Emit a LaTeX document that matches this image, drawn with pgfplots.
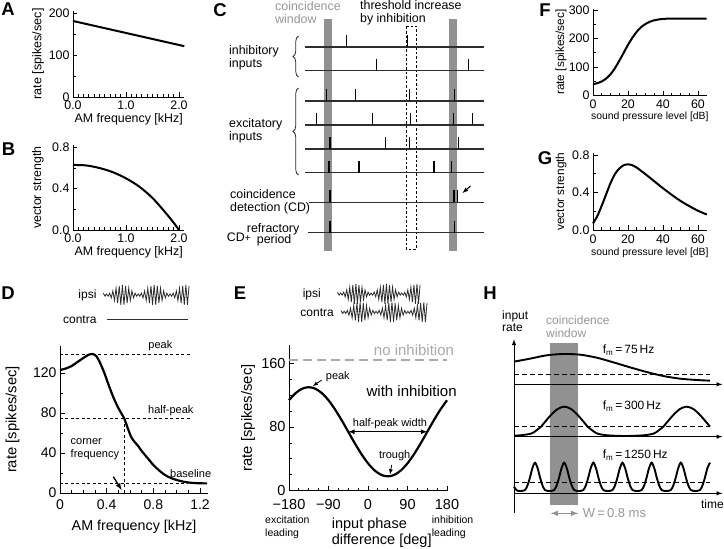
\documentclass[border=0pt]{standalone}
\usepackage{fontspec}
\setmainfont{Liberation Sans}
\usepackage{pgfplots}
\pgfplotsset{compat=1.18}
\usepackage{pgfplotstable}
\usetikzlibrary{decorations.pathreplacing}

\definecolor{bandgray}{RGB}{145,145,145}
\definecolor{txtgray}{RGB}{150,150,150}
\definecolor{dgray}{RGB}{45,45,45}
\definecolor{lgray}{RGB}{170,170,170}

\newcommand{\fs}[2]{\fontsize{#1}{#2}\selectfont}

% AM waveform (carrier half-cycles, envelope value with alternating sign)
\pgfplotstableread{
k y
0 0.186
1 -0.122
2 0.10
3 -0.122
4 0.186
5 -0.285
6 0.411
7 -0.55
8 0.689
9 -0.815
10 0.914
11 -0.978
12 1.0
13 -0.978
14 0.914
15 -0.815
16 0.689
17 -0.55
18 0.411
19 -0.285
20 0.186
21 -0.122
22 0.10
23 -0.122
24 0.186
25 -0.285
26 0.411
27 -0.55
28 0.689
29 -0.815
30 0.914
31 -0.978
32 1.0
33 -0.978
34 0.914
35 -0.815
36 0.689
37 -0.55
38 0.411
39 -0.285
40 0.186
41 -0.122
42 0.10
43 -0.122
44 0.186
45 -0.285
46 0.411
47 -0.55
48 0.689
49 -0.815
50 0.914
51 -0.978
52 1.0
53 -0.978
54 0.914
}\amwave

\pgfplotsset{
 panel/.style={scale only axis, axis lines*=left, tick align=inside,
   major tick length=4.5pt, minor tick length=2.8pt,
   axis line style={line width=0.9pt, black},
   tick style={line width=0.8pt, black},
   /pgf/number format/assume math mode=true,
   clip=false},
 ylab/.style 2 args={every axis y label/.style={at={([xshift=-#1]axis description cs:0,0.5)}, rotate=90, anchor=center, font=#2}},
 xlab/.style 2 args={every axis x label/.style={at={([yshift=-#1]axis description cs:0.5,0)}, anchor=center, font=#2}},
 schem/.style={scale only axis, hide axis, clip=false, y dir=reverse},
 wave/.style={scale only axis, hide axis, clip=false, xmin=0, xmax=54, ymin=-1, ymax=1, height=20pt},
}

\newcommand{\spk}[3]{\addplot[black, line width=1.5pt] coordinates {(#1,#2)(#1,#3)};}

\begin{document}
\begin{tikzpicture}
\path[use as bounding box] (0pt,0pt) rectangle (724pt,549pt);

% panel letters
\begin{scope}[every node/.style={font=\bfseries\fs{18.5}{18.5}}]
\node at (8pt,540pt) {A};
\node at (8.5pt,400pt) {B};
\node at (220pt,538.5pt) {C};
\node at (8pt,255.5pt) {D};
\node at (240pt,256pt) {E};
\node at (545pt,539pt) {F};
\node at (545pt,391pt) {G};
\node at (490pt,256pt) {H};
\end{scope}

% ---------------- A ----------------
\begin{axis}[panel, at={(73pt,452pt)}, anchor=south west, width=111.3pt, height=86.1pt,
 xmin=0, xmax=2.1, ymin=0, ymax=205,
 xtick={0,1,2}, xticklabels={0.0,1.0,2.0}, minor x tick num=9,
 ytick={0,100,200}, minor y tick num=1,
 tick label style={font=\fs{12.4}{12.4}},
 xlab={22.5pt}{\fs{12.4}{12.4}}, ylab={35pt}{\fs{12.6}{12.6}},
 xlabel={AM frequency [kHz]}, ylabel={rate [spikes/sec]}]
\addplot[black, line width=2pt] coordinates {(0,181) (2.1,121)};
\end{axis}

% ---------------- B ----------------
\begin{axis}[panel, at={(73pt,319pt)}, anchor=south west, width=111.3pt, height=84.7pt,
 xmin=0, xmax=2.1, ymin=0, ymax=0.82,
 xtick={0,1,2}, xticklabels={0.0,1.0,2.0}, minor x tick num=9,
 ytick={0,0.4,0.8}, yticklabels={0.0,0.4,0.8}, minor y tick num=1,
 tick label style={font=\fs{12.4}{12.4}},
 xlab={22.5pt}{\fs{12.4}{12.4}}, ylab={35pt}{\fs{12.4}{12.4}},
 xlabel={AM frequency [kHz]}, ylabel={vector strength}]
\addplot[black, line width=2pt, smooth] coordinates {(0,0.63) (0.25,0.625) (0.5,0.6) (0.75,0.56) (1,0.5) (1.25,0.42) (1.5,0.31) (1.75,0.165) (1.9,0.07) (2,0)};
\end{axis}

% ---------------- F ----------------
\begin{axis}[panel, at={(593pt,453.3pt)}, anchor=south west, width=113.75pt, height=87.1pt,
 xmin=0, xmax=65, ymin=0, ymax=305,
 xtick={0,20,40,60}, minor x tick num=3,
 ytick={0,100,200,300}, minor y tick num=1,
 tick label style={font=\fs{12.4}{12.4}},
 xticklabel style={yshift=-1pt},
 xlab={21pt}{\fs{10.4}{10.4}}, ylab={32pt}{\fs{11.8}{11.8}},
 xlabel={sound pressure level [dB]}, ylabel={rate [spikes/sec]}]
\addplot[black, line width=2pt, smooth] coordinates {(0,40) (2.5,44) (5,50) (7.5,60) (10,75) (12.5,96) (15,122) (17.5,150) (20,178) (22.5,203) (25,224) (27.5,240) (30,251) (32.5,259) (35,264) (37.5,267) (40,269) (45,270) (50,270) (55,270) (60,270) (65,270)};
\end{axis}

% ---------------- G ----------------
\begin{axis}[panel, at={(593pt,319pt)}, anchor=south west, width=113.75pt, height=76.9pt,
 xmin=0, xmax=65, ymin=0, ymax=0.82,
 xtick={0,20,40,60}, minor x tick num=3,
 ytick={0,0.4,0.8}, yticklabels={0.0,0.4,0.8}, minor y tick num=1,
 tick label style={font=\fs{12.4}{12.4}},
 xticklabel style={yshift=-1pt},
 xlab={23pt}{\fs{10.4}{10.4}}, ylab={32pt}{\fs{11.8}{11.8}},
 xlabel={sound pressure level [dB]}, ylabel={vector strength}]
\addplot[black, line width=2pt, smooth] coordinates {(0,0.07) (2.5,0.15) (5,0.26) (7.5,0.38) (10,0.5) (12.5,0.595) (15,0.655) (17.5,0.69) (20,0.70) (22.5,0.69) (25,0.665) (27.5,0.63) (30,0.595) (35,0.52) (40,0.445) (45,0.375) (50,0.31) (55,0.255) (60,0.205) (65,0.165)};
\end{axis}

% ---------------- C ----------------
\begin{axis}[schem, at={(355pt,419pt)}, anchor=center, width=270pt, height=260pt,
 xmin=220, xmax=490, ymin=0, ymax=260]
\addplot[fill=bandgray, draw=none] coordinates {(324,19) (332,19) (332,251) (324,251)};
\addplot[fill=bandgray, draw=none] coordinates {(449,19) (456.5,19) (456.5,251) (449,251)};
\addplot[black, line width=0.8pt, dash pattern=on 2.5pt off 2pt] coordinates {(406,26) (416,26) (416,249.5) (406,249.5) (406,26)};
\addplot[dgray, line width=1.1pt] coordinates {(305,47) (484,47)};
\addplot[dgray, line width=1.1pt] coordinates {(305,70.7) (484,70.7)};
\addplot[dgray, line width=1.1pt] coordinates {(305,101) (484,101)};
\addplot[dgray, line width=1.1pt] coordinates {(305,125) (484,125)};
\addplot[dgray, line width=1.1pt] coordinates {(305,149) (484,149)};
\addplot[dgray, line width=1.1pt] coordinates {(305,172.7) (484,172.7)};
\addplot[dgray, line width=1.1pt] coordinates {(309,202.3) (484,202.3)};
\addplot[dgray, line width=1.1pt] coordinates {(308,232.7) (484,232.7)};
\spk{346.7}{47}{35}\spk{407.7}{47}{35}
\spk{376.7}{70.7}{58.7}\spk{468.3}{70.7}{58.7}
\spk{326.7}{101}{89}\spk{355.7}{101}{89}\spk{409.3}{101}{89}\spk{454.3}{101}{89}
\spk{316.7}{125}{113}\spk{372.3}{125}{113}\spk{410.7}{125}{113}\spk{453.3}{125}{113}\spk{472.7}{125}{113}
\spk{330}{149}{137}\spk{385.7}{149}{137}\spk{409.7}{149}{137}\spk{458.3}{149}{137}
\spk{329}{172.7}{160.7}\spk{359}{172.7}{160.7}\spk{434}{172.7}{160.7}\spk{451.7}{172.7}{160.7}
\spk{330}{202.3}{190.3}\spk{454}{202.3}{190.3}\spk{457.7}{202.3}{190.3}
\spk{330}{232.7}{220.7}\spk{454.3}{232.7}{220.7}
\addplot[black, line width=1pt, -latex] coordinates {(470.5,186) (462.5,193)};
\draw[dgray, line width=0.8pt, decorate, decoration={brace, amplitude=5.5pt}] (axis cs:298.5,77) -- (axis cs:298.5,36);
\draw[dgray, line width=0.8pt, decorate, decoration={brace, amplitude=5.5pt}] (axis cs:298.5,175) -- (axis cs:298.5,88);
\begin{scope}[every node/.style={font=\fs{12.4}{12.6}, anchor=west, align=left, inner sep=0pt}]
\node at (axis cs:229,58) {inhibitory\\inputs};
\node at (axis cs:229,131) {excitatory\\inputs};
\node at (axis cs:230,201.7) {coincidence\\detection (CD)};
\node at (axis cs:226.7,237.3) {CD{\fs{10}{10}+}};
\node at (axis cs:246.7,229.3) {refractory};
\node at (axis cs:256.7,240.7) {period};
\node[text=txtgray] at (axis cs:275,12.5) {coincidence\\window};
\node at (axis cs:360,12.5) {threshold increase\\by inhibition};
\end{scope}
\end{axis}

% ---------------- D ----------------
\begin{axis}[panel, at={(60pt,56pt)}, anchor=south west, width=148.2pt, height=147pt,
 xmin=0, xmax=1.27, ymin=0, ymax=147,
 xtick={0,0.4,0.8,1.2}, xticklabels={0,0.4,0.8,1.2}, minor x tick num=3,
 ytick={0,40,80,120}, minor y tick num=1,
 tick label style={font=\fs{14}{14}},
 xticklabel style={yshift=-3.5pt},
 xlab={33.7pt}{\fs{14.3}{14.3}}, ylab={47.5pt}{\fs{14.8}{14.8}},
 xlabel={AM frequency [kHz]}, ylabel={rate [spikes/sec]}]
\addplot[black, line width=0.9pt, dash pattern=on 3pt off 2.5pt] coordinates {(0,139) (1.11,139)};
\addplot[black, line width=0.9pt, dash pattern=on 3pt off 2.5pt] coordinates {(0,74.5) (1.11,74.5)};
\addplot[black, line width=0.9pt, dash pattern=on 3pt off 2.5pt] coordinates {(0,9.5) (1.1,9.5)};
\addplot[black, line width=0.9pt, dash pattern=on 3pt off 2.5pt] coordinates {(0.55,0) (0.55,74.5)};
\addplot[black, line width=2.2pt, smooth] coordinates {(0,123) (0.05,124.5) (0.1,127) (0.15,131) (0.2,135) (0.25,138.5) (0.28,139) (0.31,137) (0.34,131) (0.38,120) (0.42,107) (0.46,95) (0.5,85) (0.55,74.5) (0.58,65) (0.61,56) (0.64,51) (0.67,47) (0.7,42) (0.75,35) (0.8,28) (0.85,22.5) (0.9,18) (0.95,15) (1.0,13) (1.05,11.5) (1.1,10.5) (1.15,10) (1.2,9.7) (1.26,9.6)};
\addplot[black, line width=1.3pt, -latex] coordinates {(0.457,16.3) (0.528,3)};
\begin{scope}[every node/.style={font=\fs{11}{12.5}}]
\node at (axis cs:0.86,147) {peak};
\node at (axis cs:0.95,82) {half-peak};
\node at (axis cs:1.12,19) {baseline};
\node[anchor=west, align=left, inner sep=0pt] at (axis cs:0.09,44) {corner\\frequency};
\end{scope}
\end{axis}
% D stimulus
\node[font=\fs{12}{12}, anchor=east, inner sep=0pt] at (96.7pt,254pt) {ipsi};
\node[font=\fs{12}{12}, anchor=east, inner sep=0pt] at (96.7pt,229.7pt) {contra};
\begin{axis}[wave, at={(146.2pt,254pt)}, anchor=center, width=85.7pt]
\addplot[dgray, line width=0.8pt] table[x=k, y=y] {\amwave};
\addplot[dgray, line width=1.3pt] coordinates {(2.1,-2.43) (53.4,-2.43)};
\end{axis}

% ---------------- E ----------------
\begin{axis}[panel, at={(289pt,58.3pt)}, anchor=south west, width=158.9pt, height=145.7pt,
 xmin=-180, xmax=182, ymin=0, ymax=183,
 xtick={-180,-90,0,90,180}, xticklabels={−180,−90,0,90,180}, minor x tick num=3,
 ytick={0,80,160}, minor y tick num=3,
 tick label style={font=\fs{14.5}{14.5}},
 xticklabel style={yshift=-5pt},
 ylab={41pt}{\fs{14.8}{14.8}}, ylabel={rate [spikes/sec]}]
\addplot[lgray, line width=2.6pt, dash pattern=on 9pt off 5pt] coordinates {(-180,164) (180,164)};
\addplot[black, line width=2.2pt, smooth] coordinates {(-180,113.6) (-165,122.5) (-150,128.1) (-135,130) (-120,128.1) (-105,122.5) (-90,113.6) (-75,102) (-60,88.5) (-45,74) (-30,59.5) (-15,46) (0,34.4) (15,25.5) (30,19.9) (45,18) (60,19.9) (75,25.5) (90,34.4) (105,46) (120,59.5) (135,74) (150,88.5) (165,102) (180,113.6)};
\addplot[black, line width=1.2pt, latex-latex] coordinates {(-45,74) (135,74)};
\addplot[black, line width=0.8pt, -latex] coordinates {(-105.5,139) (-126,131.3)};
\addplot[black, line width=0.8pt, -latex] coordinates {(54,32.3) (50,20.5)};
\node[font=\fs{15}{15}, text=lgray] at (axis cs:104.8,176.8) {no inhibition};
\node[font=\fs{15}{15}] at (axis cs:99.5,125) {with inhibition};
\begin{scope}[every node/.style={font=\fs{11}{11}}]
\node[anchor=west] at (axis cs:-104,143.6) {peak};
\node at (axis cs:50,84.7) {half-peak width};
\node at (axis cs:60.8,44) {trough};
\end{scope}
\end{axis}
\node[font=\fs{10.5}{12.7}, anchor=west, align=left, inner sep=0pt] at (265pt,22pt) {excitation\\leading};
\node[font=\fs{10.5}{12.7}, anchor=west, align=left, inner sep=0pt] at (431.7pt,22pt) {inhibition\\leading};
\node[font=\fs{14.5}{16}, anchor=west, align=left, inner sep=0pt] at (331.7pt,16.5pt) {input phase\\difference [deg]};
% E stimulus
\node[font=\fs{12}{12}, anchor=east, inner sep=0pt] at (321pt,255pt) {ipsi};
\node[font=\fs{12}{12}, anchor=east, inner sep=0pt] at (334pt,236.7pt) {contra};
\begin{axis}[wave, at={(378.8pt,255pt)}, anchor=center, width=82.5pt]
\addplot[dgray, line width=0.8pt] table[x=k, y=y] {\amwave};
\end{axis}
\begin{axis}[wave, at={(384pt,236.7pt)}, anchor=center, width=86pt]
\addplot[dgray, line width=0.8pt] table[x=k, y=y] {\amwave};
\end{axis}

% ---------------- H ----------------
\begin{axis}[schem, at={(617pt,134.5pt)}, anchor=center, width=214pt, height=269pt,
 xmin=0, xmax=642, ymin=0, ymax=807]
\addplot[fill=bandgray, draw=none] coordinates {(120,188) (205,188) (205,675) (120,675)};
\addplot[black, line width=1pt, -latex] coordinates {(12,700) (12,178)};
\addplot[black, line width=1pt, -latex] coordinates {(12,313) (637,313)};
\addplot[black, line width=1pt, -latex] coordinates {(12,470) (637,470)};
\addplot[black, line width=1pt, -latex] coordinates {(12,640) (637,640)};
\addplot[black, line width=1pt, dash pattern=on 5pt off 3pt] coordinates {(12,283) (600,283)};
\addplot[black, line width=1pt, dash pattern=on 5pt off 3pt] coordinates {(12,440) (600,440)};
\addplot[black, line width=1pt, dash pattern=on 5pt off 3pt] coordinates {(12,608) (600,608)};
\addplot[black, line width=1.9pt, smooth] coordinates {(12,245) (60,236) (110,226) (160,222) (210,224) (260,233) (310,247) (360,262) (410,276) (460,288) (510,296) (560,300) (600,302)};
\addplot[black, line width=1.9pt, smooth] coordinates {(12,467) (30,466) (63,461) (78,452) (93,440) (103,428) (123,405) (143,387) (163,380) (183,387) (203,405) (223,428) (233,440) (248,452) (263,461) (293,466) (346,468) (400,466) (430,461) (445,452) (460,440) (470,428) (490,405) (510,387) (530,380) (550,387) (570,405) (590,428) (600,440)};
\addplot[black, line width=1.9pt, smooth] coordinates {(12,620) (20,631) (31.25,633) (45,630) (53,615) (60,592) (67,565) (75,548) (83,565) (90,592) (97,615) (105,630) (118.75,633) (132.5,630) (140.5,615) (147.5,592) (154.5,565) (162.5,548) (170.5,565) (177.5,592) (184.5,615) (192.5,630) (206.25,633) (220,630) (228,615) (235,592) (242,565) (250,548) (258,565) (265,592) (272,615) (280,630) (293.75,633) (307.5,630) (315.5,615) (322.5,592) (329.5,565) (337.5,548) (345.5,565) (352.5,592) (359.5,615) (367.5,630) (381.25,633) (395,630) (403,615) (410,592) (417,565) (425,548) (433,565) (440,592) (447,615) (455,630) (468.75,633) (482.5,630) (490.5,615) (497.5,592) (504.5,565) (512.5,548) (520.5,565) (527.5,592) (534.5,615) (542.5,630) (556.25,633) (570,630) (578,615) (585,592) (592,565) (600,548)};
\addplot[bandgray, line width=1.5pt, latex-latex] coordinates {(122,700) (205,700)};
\begin{scope}[every node/.style={font=\fs{12}{12.5}, inner sep=0pt}]
\node[anchor=west, align=left] at (axis cs:-24,124) {input\\rate};
\node[anchor=west, align=left, text=txtgray] at (axis cs:108,140) {coincidence\\window};
\node[anchor=west] at (axis cs:278,210) {f\textsubscript{m}\,=\,75\,Hz};
\node[anchor=west] at (axis cs:278,378) {f\textsubscript{m}\,=\,300\,Hz};
\node[anchor=west] at (axis cs:278,525) {f\textsubscript{m}\,=\,1250\,Hz};
\node[anchor=east] at (axis cs:642,672) {time};
\node[anchor=west, text=txtgray, font=\fs{13}{13}] at (axis cs:218,700) {W\,=\,0.8 ms};
\end{scope}
\end{axis}

\end{tikzpicture}
\end{document}
